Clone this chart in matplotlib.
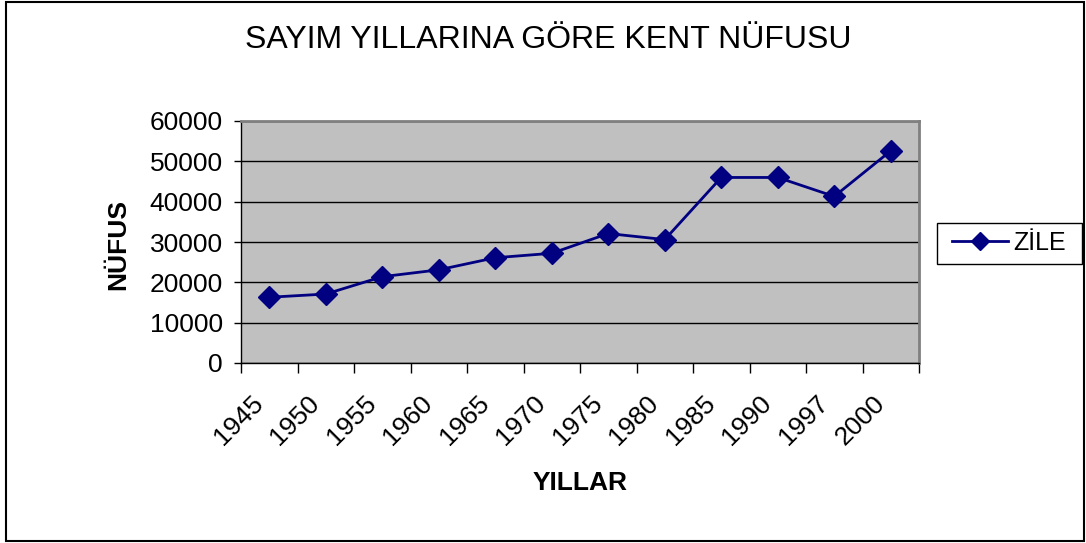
import numpy as np
import matplotlib.pyplot as plt
import matplotlib.transforms as mtransforms
from matplotlib.patches import Rectangle

# census years (categorical) and town population
years = ['1945', '1950', '1955', '1960', '1965', '1970',
         '1975', '1980', '1985', '1990', '1997', '2000']
population = [16300, 17100, 21400, 23100, 26100, 27200,
              32100, 30600, 46000, 46000, 41300, 52600]
y_ticks = [0, 10000, 20000, 30000, 40000, 50000, 60000]

plt.rcParams['font.family'] = ['Liberation Sans', 'DejaVu Sans']

W, H = 1086, 543
fig = plt.figure(figsize=(W / 100, H / 100), dpi=100)
ax = fig.add_axes([241 / W, 1 - 363 / H, (919 - 241) / W, (363 - 121) / H])

x = np.arange(len(years))
ax.plot(x, population, color='#000080', linewidth=2, marker='D',
        markersize=11, label='ZİLE', zorder=3)

ax.set_facecolor('#C0C0C0')
ax.set_xlim(-0.5, len(years) - 0.5)
ax.set_ylim(0, 60000)
ax.set_yticks(y_ticks)
ax.set_yticklabels([str(v) for v in y_ticks], fontsize=19)
ax.yaxis.grid(True, color='black', linewidth=1)
ax.set_axisbelow(True)

# labels at category centres, tick marks at category boundaries
ax.set_xticks(x)
ax.set_xticklabels(years, fontsize=19, rotation=45, ha='right',
                   va='center', rotation_mode='anchor')
ax.set_xticks(np.arange(len(years) + 1) - 0.5, minor=True)
ax.tick_params(axis='x', which='major', length=0, pad=26)
ax.tick_params(axis='x', which='minor', length=7, width=1, direction='out')
ax.tick_params(axis='y', length=5, width=1, direction='out', pad=8)
shift = mtransforms.ScaledTranslation(-10 / 100, 0, fig.dpi_scale_trans)
for lbl in ax.get_xticklabels():
    lbl.set_transform(lbl.get_transform() + shift)

for side in ['top', 'right']:
    ax.spines[side].set_color('#808080')
    ax.spines[side].set_linewidth(2)
for side in ['left', 'bottom']:
    ax.spines[side].set_color('black')
    ax.spines[side].set_linewidth(1)

fig.text(548 / W, 1 - 40 / H, 'SAYIM YILLARINA GÖRE KENT NÜFUSU',
         fontsize=23, ha='center', va='center')
fig.text(580 / W, 1 - 483 / H, 'YILLAR', fontsize=19, fontweight='bold',
         ha='center', va='center')
fig.text(118 / W, 1 - 244 / H, 'NÜFUS', fontsize=19, fontweight='bold',
         ha='center', va='center', rotation=90)

# legend entry, with its box drawn separately
fig.legend(loc='center left', bbox_to_anchor=(952 / W, 1 - 243 / H),
           fontsize=18, frameon=False, borderpad=0, borderaxespad=0,
           handlelength=2.25, handletextpad=0.2, markerscale=0.8)
fig.patches.append(Rectangle((937 / W, 1 - 264 / H), (1082 - 937) / W,
                             (264 - 223) / H, transform=fig.transFigure,
                             fill=False, edgecolor='black', linewidth=1))

# outer chart border
fig.patches.append(Rectangle((6 / W, 2 / H), (1084 - 6) / W, (541 - 2) / H,
                             transform=fig.transFigure, fill=False,
                             edgecolor='black', linewidth=1.5))

fig.savefig('out.png', dpi=100)
